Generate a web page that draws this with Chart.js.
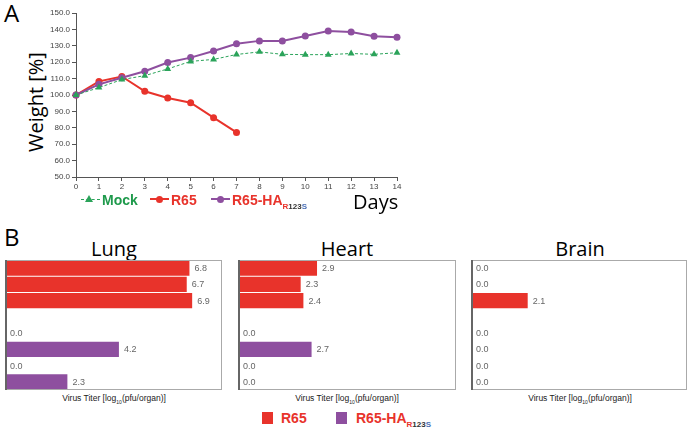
<!DOCTYPE html>
<html lang="en">
<head>
<meta charset="UTF-8">
<title>Weight and virus titer</title>
<script src="https://cdn.jsdelivr.net/npm/chart.js"></script>
<style>
    body {
        margin: 0;
        background: #fff;
        font-family: Arial, 'Liberation Sans', sans-serif;
    }
    #page {
        position: relative;
        width: 688px;
        height: 430px;
        overflow: hidden;
    }
    .abs { position: absolute; white-space: nowrap; }
    .big {
        font-family: 'Open Sans', sans-serif;
        font-weight: 500;
        color: #000;
        line-height: 1;
    }
    .letter { font-size: 24px; }
    .organ { font-size: 20px; text-align: center; width: 220px; }
    .leg {
        font-weight: bold;
        font-size: 14px;
        line-height: 14px;
    }
    .leg sub { font-size: 8px; vertical-align: -4px; }
    .xlab {
        font-size: 8.5px;
        color: #222;
        text-align: center;
        width: 220px;
    }
    .xlab sub { font-size: 5px; }
    .dot {
        position: absolute;
        width: 7px;
        height: 7px;
        border-radius: 50%;
    }
    canvas { position: absolute; }
</style>
</head>
<body>
<div id="page">
    <div class="abs big letter" style="left:4px; top:1px;">A</div>
    <div class="abs big" style="left:36px; top:102px; font-size:20px; transform:translate(-50%,-50%) rotate(-90deg);">Weight [%]</div>
    <canvas id="weightChart" width="405" height="195" style="left:0; top:0;"></canvas>

    <!-- legend A -->
    <div class="abs" style="left:81px; top:199px; width:19px; border-top:1px dashed #2ba35a;"></div>
    <div class="abs" style="left:85px; top:195px; width:0; height:0; border-left:4px solid transparent; border-right:4px solid transparent; border-bottom:7px solid #2ba35a;"></div>
    <div class="abs leg" style="left:102px; top:193px; color:#1f9a4c;">Mock</div>

    <div class="abs" style="left:150px; top:198px; width:19px; border-top:2px solid #e8332b;"></div>
    <div class="dot" style="left:156px; top:195.5px; background:#e8332b;"></div>
    <div class="abs leg" style="left:171px; top:193px; color:#e8332b;">R65</div>

    <div class="abs" style="left:211px; top:198px; width:19px; border-top:2px solid #8e4f9f;"></div>
    <div class="dot" style="left:217px; top:195.5px; background:#8e4f9f;"></div>
    <div class="abs leg" style="left:232px; top:193px; color:#e8332b;">R65-HA<sub><span style="color:#e8332b">R</span><span style="color:#333">123</span><span style="color:#4a6fb5">S</span></sub></div>

    <div class="abs big" style="left:353px; top:192px; font-size:20px;">Days</div>

    <!-- panel B -->
    <div class="abs big letter" style="left:4px; top:225px;">B</div>
    <div class="abs big organ" style="left:4px; top:239px;">Lung</div>
    <div class="abs big organ" style="left:237px; top:239px;">Heart</div>
    <div class="abs big organ" style="left:470px; top:239px;">Brain</div>

    <canvas id="lungChart" width="219" height="132" style="left:4px; top:259px;"></canvas>
    <canvas id="heartChart" width="220" height="132" style="left:237px; top:259px;"></canvas>
    <canvas id="brainChart" width="218" height="132" style="left:470px; top:259px;"></canvas>

    <div class="abs xlab" style="left:4px; top:393px;">Virus Titer [log<sub>10</sub>(pfu/organ)]</div>
    <div class="abs xlab" style="left:237px; top:393px;">Virus Titer [log<sub>10</sub>(pfu/organ)]</div>
    <div class="abs xlab" style="left:470px; top:393px;">Virus Titer [log<sub>10</sub>(pfu/organ)]</div>

    <!-- legend B -->
    <div class="abs" style="left:262px; top:412px; width:11px; height:12px; background:#e8332b;"></div>
    <div class="abs leg" style="left:281px; top:411px; color:#e8332b;">R65</div>
    <div class="abs" style="left:336px; top:412px; width:11px; height:12px; background:#8e4f9f;"></div>
    <div class="abs leg" style="left:356px; top:411px; color:#e8332b;">R65-HA<sub><span style="color:#e8332b">R</span><span style="color:#333">123</span><span style="color:#4a6fb5">S</span></sub></div>
</div>

<script>
    // panel A: body weight (% of day 0)
    const days = ['0','1','2','3','4','5','6','7','8','9','10','11','12','13','14'];
    const mockWeight = [100, 104.5, 109.4, 111.8, 115.9, 120.5, 121.7, 124.7, 126.3, 124.8, 124.6, 124.6, 125.3, 124.8, 125.8];
    const r65Weight = [100, 108.3, 111.3, 102.3, 98.2, 95.3, 86.2, 77.2];
    const haWeight = [100, 106.5, 110.5, 114.5, 119.8, 122.8, 126.8, 131.2, 133.0, 133.0, 136.0, 139.0, 138.4, 135.8, 135.2];

    // panel B: virus titers, rows 1-3 R65 mice, row 4 empty, rows 5-8 R65-HA mice
    const rowLabels = ['R65 1', 'R65 2', 'R65 3', '', 'HA 1', 'HA 2', 'HA 3', 'HA 4'];
    const lungTiter = [6.8, 6.7, 6.9, null, 0.0, 4.2, 0.0, 2.3];
    const heartTiter = [2.9, 2.3, 2.4, null, 0.0, 2.7, 0.0, 0.0];
    const brainTiter = [0.0, 0.0, 2.1, null, 0.0, 0.0, 0.0, 0.0];

    const RED = '#e8332b';
    const PURPLE = '#8e4f9f';
    const GREEN = '#2ba35a';

    new Chart(document.getElementById('weightChart'), {
        type: 'line',
        data: {
            labels: days,
            datasets: [
                {
                    label: 'Mock',
                    data: mockWeight,
                    borderColor: GREEN,
                    backgroundColor: GREEN,
                    borderWidth: 1,
                    borderDash: [3, 2],
                    pointStyle: 'triangle',
                    pointRadius: 4,
                    pointBorderWidth: 0
                },
                {
                    label: 'R65-HA R123S',
                    data: haWeight,
                    borderColor: PURPLE,
                    backgroundColor: PURPLE,
                    borderWidth: 2,
                    pointRadius: 3.5,
                    pointBorderWidth: 0
                },
                {
                    label: 'R65',
                    data: r65Weight,
                    borderColor: RED,
                    backgroundColor: RED,
                    borderWidth: 2,
                    pointRadius: 3.5,
                    pointBorderWidth: 0
                }
            ]
        },
        options: {
            responsive: false,
            animation: false,
            clip: false,
            layout: { padding: { top: 13, right: 8, left: 0, bottom: 0 } },
            plugins: { legend: { display: false }, tooltip: { enabled: false } },
            scales: {
                x: {
                    offset: false,
                    afterFit: (scale) => { scale.height = 18; },
                    grid: { drawOnChartArea: false, tickLength: 4, color: '#555' },
                    border: { color: '#555' },
                    ticks: { font: { size: 8 }, color: '#444', padding: 1, maxRotation: 0 }
                },
                y: {
                    min: 50,
                    max: 150,
                    afterFit: (scale) => { scale.width = 76; },
                    grid: { drawOnChartArea: false, tickLength: 4, color: '#555' },
                    border: { color: '#555' },
                    ticks: {
                        stepSize: 10,
                        font: { size: 8 },
                        color: '#444',
                        padding: 2,
                        callback: (v) => v.toFixed(1)
                    }
                }
            }
        }
    });

    const boxPlugin = {
        id: 'box',
        afterDraw(chart) {
            const a = chart.chartArea;
            const ctx = chart.ctx;
            ctx.save();
            ctx.strokeStyle = '#aaa';
            ctx.lineWidth = 1;
            ctx.strokeRect(a.left + 0.5, a.top + 0.5, a.right - a.left - 1, a.bottom - a.top - 1);
            ctx.strokeStyle = '#666';
            ctx.lineWidth = 2;
            ctx.beginPath();
            ctx.moveTo(a.left + 1, a.top);
            ctx.lineTo(a.left + 1, a.bottom);
            ctx.stroke();
            ctx.restore();
        }
    };

    const valuePlugin = {
        id: 'values',
        afterDatasetsDraw(chart) {
            const ctx = chart.ctx;
            const values = chart.data.datasets[0].data;
            ctx.save();
            ctx.font = '9px Arial';
            ctx.fillStyle = '#666';
            ctx.textBaseline = 'middle';
            chart.getDatasetMeta(0).data.forEach((bar, i) => {
                if (values[i] === null) return;
                ctx.fillText(values[i].toFixed(1), bar.x + 5, bar.y + 0.5);
            });
            ctx.restore();
        }
    };

    function titerChart(id, values) {
        const colors = values.map((v, i) => i < 3 ? RED : PURPLE);
        return new Chart(document.getElementById(id), {
            type: 'bar',
            data: {
                labels: rowLabels,
                datasets: [{
                    data: values,
                    backgroundColor: colors,
                    borderWidth: 0,
                    barPercentage: 0.93,
                    categoryPercentage: 1
                }]
            },
            options: {
                indexAxis: 'y',
                responsive: false,
                animation: false,
                layout: { padding: 1 },
                plugins: { legend: { display: false }, tooltip: { enabled: false } },
                scales: {
                    x: { min: 0, max: 8, display: false },
                    y: { display: false }
                }
            },
            plugins: [boxPlugin, valuePlugin]
        });
    }

    titerChart('lungChart', lungTiter);
    titerChart('heartChart', heartTiter);
    titerChart('brainChart', brainTiter);
</script>
</body>
</html>
